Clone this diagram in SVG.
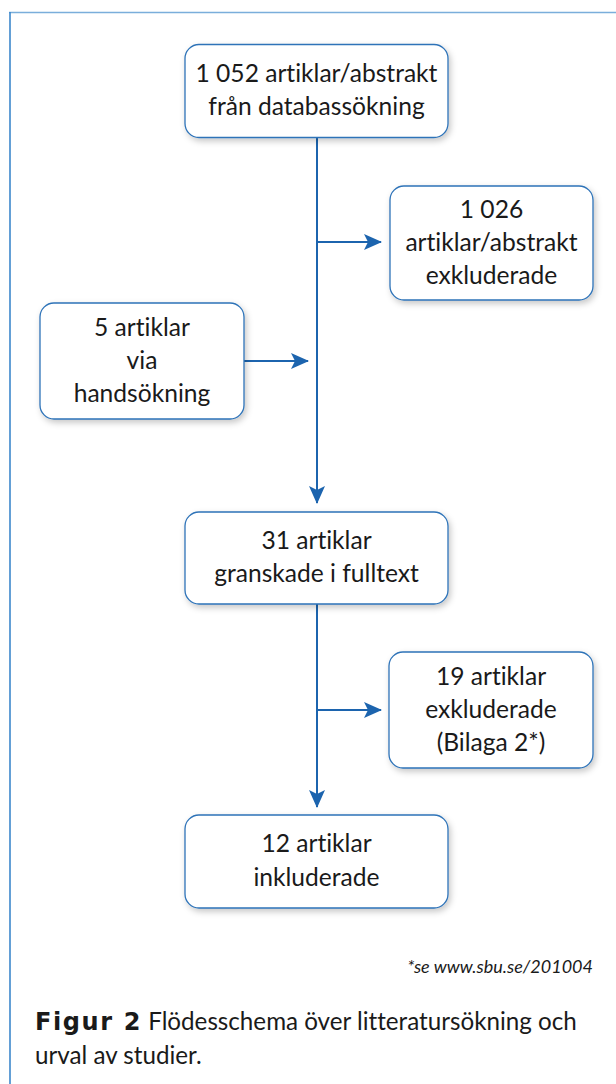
<svg xmlns="http://www.w3.org/2000/svg" width="616" height="1084" viewBox="0 0 616 1084">
<style>
text{font-variant-ligatures:none}
.box{fill:#fff;stroke:#2e73b8;stroke-width:1.3;filter:url(#sh)}
.t{font-family:Lato,"Liberation Sans",sans-serif;font-size:24.6px;fill:#1a1a1a;text-anchor:middle}
.c{stroke:#1c64ae;stroke-width:2;fill:none}
.cap{font-family:Lato,"Liberation Sans",sans-serif;font-size:24.2px;fill:#1a1a1a}
.b{font-family:"DejaVu Sans",sans-serif;font-weight:bold;font-size:24px;letter-spacing:1.6px}
</style>
<defs>
<filter id="sh" x="-10%" y="-10%" width="125%" height="135%">
<feDropShadow dx="2" dy="3" stdDeviation="3" flood-color="#000" flood-opacity="0.22"/>
</filter>
<marker id="ah" viewBox="0 0 18 16" refX="17" refY="8" markerWidth="18" markerHeight="16" markerUnits="userSpaceOnUse" orient="auto">
<path d="M0,0 L18,8 L0,16 L4,8 Z" fill="#1c64ae"/>
</marker>
</defs>
<rect width="616" height="1084" fill="#fff"/>
<g id="frame">
<line x1="9" y1="12.5" x2="616" y2="12.5" stroke="#7aaedb" stroke-width="1.6"/>
<line x1="10" y1="12" x2="10" y2="1084" stroke="#3d88cc" stroke-width="1.6"/>
</g>
<g id="connectors">
<path class="c" d="M317,138 V503" marker-end="url(#ah)"/>
<path class="c" d="M317,242 H381" marker-end="url(#ah)"/>
<path class="c" d="M244,361 H308" marker-end="url(#ah)"/>
<path class="c" d="M317,604 V807" marker-end="url(#ah)"/>
<path class="c" d="M317,710 H381" marker-end="url(#ah)"/>
</g>
<g id="n1">
<rect class="box" x="185" y="44.5" width="263" height="93" rx="14"/>
<text class="t" x="316.5" y="82">1 052 artiklar/abstrakt</text>
<text class="t" x="316.5" y="115">från databassökning</text>
</g>
<g id="n2">
<rect class="box" x="390" y="186" width="203" height="114" rx="14"/>
<text class="t" x="491.5" y="218">1 026</text>
<text class="t" x="491.5" y="251">artiklar/abstrakt</text>
<text class="t" x="491.5" y="284">exkluderade</text>
</g>
<g id="n3">
<rect class="box" x="40" y="303" width="204" height="116" rx="14"/>
<text class="t" x="142" y="336">5 artiklar</text>
<text class="t" x="142" y="369">via</text>
<text class="t" x="142" y="402">handsökning</text>
</g>
<g id="n4">
<rect class="box" x="185" y="512" width="263" height="92" rx="14"/>
<text class="t" x="316.5" y="549">31 artiklar</text>
<text class="t" x="316.5" y="582">granskade i fulltext</text>
</g>
<g id="n5">
<rect class="box" x="389" y="652" width="204" height="116" rx="14"/>
<text class="t" x="491" y="685">19 artiklar</text>
<text class="t" x="491" y="718">exkluderade</text>
<text class="t" x="491" y="751">(Bilaga 2*)</text>
</g>
<g id="n6">
<rect class="box" x="185" y="815" width="263" height="93" rx="14"/>
<text class="t" x="316.5" y="852">12 artiklar</text>
<text class="t" x="316.5" y="886">inkluderade</text>
</g>
<text x="593" y="973" font-family="Lato,'Liberation Sans',sans-serif" font-size="18" font-style="italic" fill="#1a1a1a" text-anchor="end">*se www.sbu.se/201004</text>
<text class="cap" x="35" y="1030"><tspan class="b">Figur 2</tspan> Flödesschema över litteratursökning och</text>
<text class="cap" x="35" y="1064">urval av studier.</text>
</svg>
